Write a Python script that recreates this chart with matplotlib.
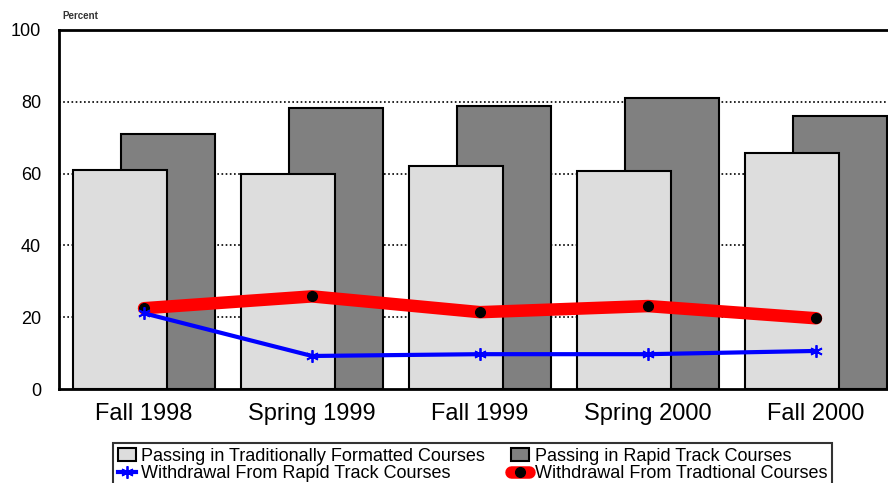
import matplotlib
matplotlib.use("Agg")
import matplotlib.pyplot as plt
import numpy as np

categories = ["Fall 1998", "Spring 1999", "Fall 1999", "Spring 2000", "Fall 2000"]
passing_traditional = [61.1, 60.0, 62.2, 60.6, 65.6]
passing_rapid = [71.1, 78.3, 78.9, 81.1, 76.1]
withdrawal_rapid = [21.1, 9.2, 9.7, 9.7, 10.6]
withdrawal_traditional = [22.5, 25.8, 21.4, 23.1, 19.7]
yticks = [0, 20, 40, 60, 80, 100]

plt.rcParams['font.family'] = ['Liberation Sans', 'DejaVu Sans']

fig = plt.figure(figsize=(8.88, 4.83), dpi=100)
ax = fig.add_axes([59/888, (483-389)/483, (901-59)/888, (389-30)/483])

x = np.arange(len(categories))
w = 0.56
off = 0.143
b1 = ax.bar(x - off, passing_traditional, width=w, color="#DDDDDD", edgecolor="black",
            linewidth=1.5, zorder=2, label="Passing in Traditionally Formatted Courses")
b2 = ax.bar(x + off, passing_rapid, width=w, color="#808080", edgecolor="black",
            linewidth=1.5, zorder=1.5, label="Passing in Rapid Track Courses")
l1, = ax.plot(x, withdrawal_rapid, color="#0000FF", linewidth=3, marker=(6, 2, 0),
              markersize=9, markeredgewidth=1.3, zorder=4,
              label="Withdrawal From Rapid Track Courses")
l2, = ax.plot(x, withdrawal_traditional, color="#FF0000", linewidth=9, marker="o",
              markersize=7, markerfacecolor="black", markeredgecolor="black",
              solid_capstyle="round", solid_joinstyle="round", zorder=3,
              label="Withdrawal From Tradtional Courses")

ax.set_xlim(-0.506, 4.506)
ax.set_ylim(0, 100)
ax.set_yticks(yticks)
ax.set_yticklabels([str(v) for v in yticks], fontsize=13)
ax.set_xticks(x)
ax.set_xticklabels(categories, fontsize=17)
ax.tick_params(axis='x', length=0, pad=10)
ax.tick_params(axis='y', length=0, pad=13)
for v in [20, 40, 60, 80]:
    ax.axhline(v, color="black", linestyle=(0, (1, 1.5)), linewidth=1.2, zorder=1)
for s in ax.spines.values():
    s.set_linewidth(2)
    s.set_color("black")

fig.text(62/888, (483-16)/483, "Percent", fontsize=7, fontweight="bold",
         color="#333333", va="center", ha="left")

leg = fig.legend(handles=[b1, l1, b2, l2], loc="upper left",
                 bbox_to_anchor=(113/888, 40/483), ncol=2,
                 fontsize=13, frameon=True, fancybox=False, edgecolor="black",
                 handlelength=1.0, handletextpad=0.3, columnspacing=1.45,
                 borderpad=0.25, labelspacing=0.05, borderaxespad=0)
leg.get_frame().set_linewidth(1.5)

fig.savefig("out.png", dpi=100)
